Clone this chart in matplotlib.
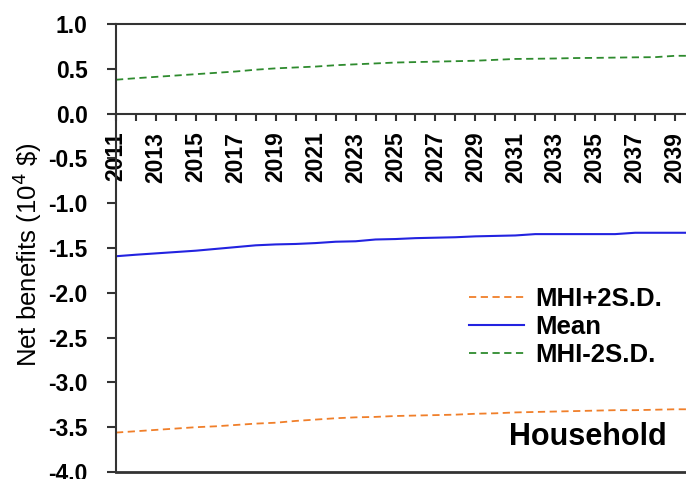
import matplotlib
matplotlib.use("Agg")
import matplotlib.pyplot as plt

plt.rcParams['font.family'] = ['Liberation Sans', 'DejaVu Sans']

years = list(range(2011, 2041))
mhi_plus = [-3.56, -3.545, -3.53, -3.515, -3.50, -3.49, -3.475, -3.46, -3.45, -3.43,
            -3.415, -3.40, -3.39, -3.385, -3.375, -3.37, -3.365, -3.36, -3.35, -3.345,
            -3.335, -3.33, -3.325, -3.32, -3.315, -3.31, -3.31, -3.305, -3.30, -3.30]
mean = [-1.592, -1.575, -1.56, -1.545, -1.53, -1.51, -1.49, -1.47, -1.46, -1.455,
        -1.445, -1.43, -1.425, -1.405, -1.40, -1.39, -1.385, -1.38, -1.37, -1.365,
        -1.36, -1.345, -1.345, -1.345, -1.345, -1.345, -1.33, -1.33, -1.33, -1.33]
mhi_minus = [0.378, 0.395, 0.41, 0.425, 0.44, 0.455, 0.47, 0.49, 0.505, 0.515,
             0.525, 0.54, 0.55, 0.56, 0.57, 0.575, 0.58, 0.585, 0.59, 0.60,
             0.61, 0.612, 0.615, 0.62, 0.622, 0.625, 0.628, 0.63, 0.645, 0.645]
labels = ['MHI+2S.D.', 'Mean', 'MHI-2S.D.']
yticks = [1.0, 0.5, 0.0, -0.5, -1.0, -1.5, -2.0, -2.5, -3.0, -3.5, -4.0]

fig = plt.figure(figsize=(6.86, 4.79), dpi=100)
ax = fig.add_axes([116/686, 7/479, 579/686, 448/479])

ax.plot(years, mhi_plus, color='#F07F2A', lw=1.3, dashes=(4, 2.5), label=labels[0])
ax.plot(years, mean, color='#2323E0', lw=1.5, label=labels[1])
ax.plot(years, mhi_minus, color='#2E8B2E', lw=1.3, dashes=(4, 2.5), label=labels[2])

ax.set_xlim(2011, 2040)
ax.set_ylim(-4.0, 1.0)

spine_color = '#333333'
for s in ['left', 'top', 'bottom']:
    ax.spines[s].set_color(spine_color)
    ax.spines[s].set_linewidth(1.5)
ax.spines['right'].set_visible(False)
ax.spines['bottom'].set_position(('data', 0))
ax.axhline(-4.0, color=spine_color, lw=2.0, clip_on=False)

ax.set_xticks(years)
ax.set_xticklabels([str(y) if y % 2 == 1 else '' for y in years],
                   rotation=90, fontsize=16.5, fontweight='bold', va='top')
ax.tick_params(axis='x', direction='out', length=5, width=1.5, pad=8, color=spine_color)
ax.set_yticks(yticks)
ax.set_yticklabels([f'{v:.1f}' for v in yticks], fontsize=16.5, fontweight='bold')
ax.tick_params(axis='y', direction='out', length=6.5, width=1.5, pad=14, color=spine_color)

ax.set_ylabel('Net benefits (10$^4$ \\$)', fontsize=18.5, va='center')
ax.yaxis.set_label_coords((27 - 116) / 579, (472 - 255) / 448)

leg = ax.legend(loc='upper left', bbox_to_anchor=(469/686, 1 - 287/479),
                bbox_transform=fig.transFigure, frameon=False,
                prop={'size': 18.5, 'weight': 'bold'}, handlelength=2.15,
                handletextpad=0.42, labelspacing=0.16, borderpad=0, borderaxespad=0)

fig.text(588/686, 1 - 437/479, 'Household', fontsize=22, fontweight='bold',
         ha='center', va='center')

fig.savefig('out.png', dpi=100)
